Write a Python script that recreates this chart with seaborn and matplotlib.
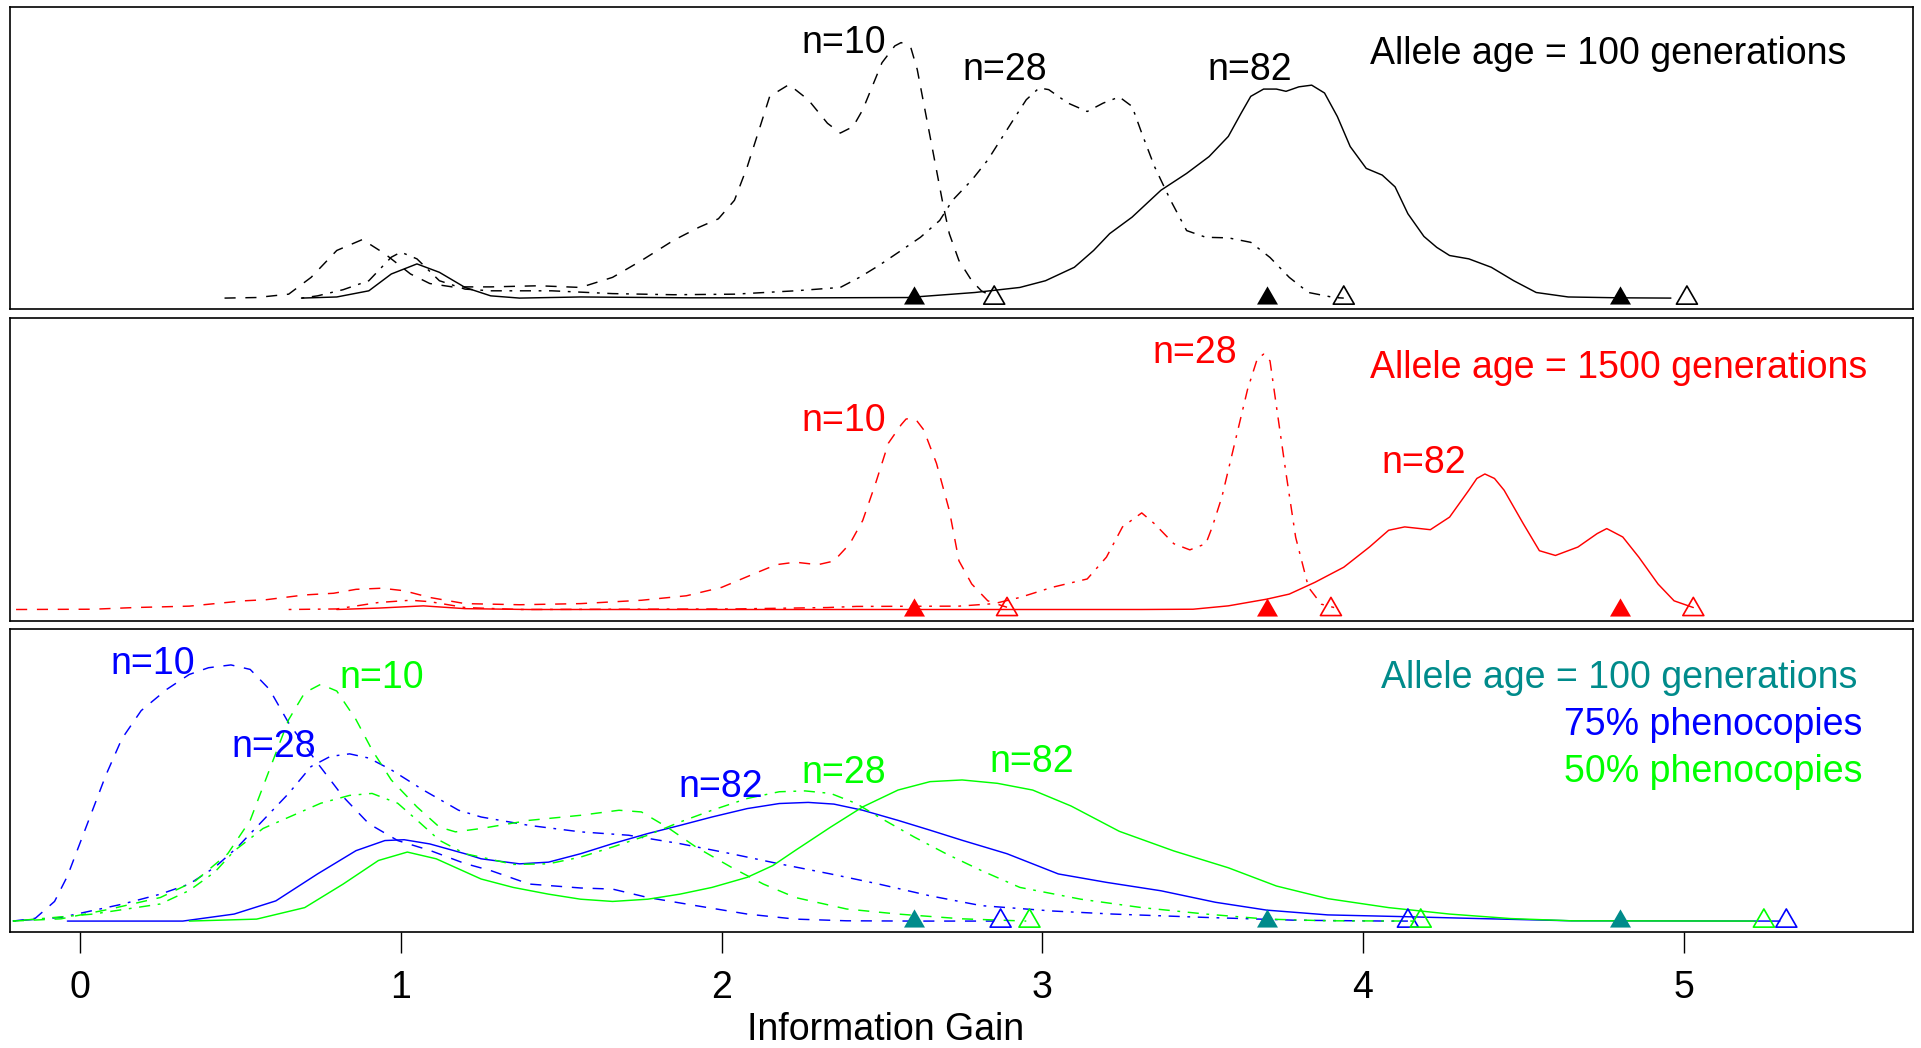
import numpy as np
import matplotlib
matplotlib.use("Agg")
import matplotlib.pyplot as plt
from matplotlib.path import Path
import seaborn as sns

# ---------------- data (density curves, scaled to panel height) ----------------
# Panel 1: allele age = 100 generations (black)
P1_N10_X = [0.45, 0.55, 0.65, 0.72, 0.80, 0.88, 0.95, 1.03, 1.09, 1.16, 1.28, 1.43, 1.56, 1.66, 1.75,
            1.85, 1.93, 1.99, 2.04, 2.08, 2.12, 2.15, 2.21, 2.27, 2.33, 2.37, 2.41, 2.44, 2.47, 2.50,
            2.54, 2.56, 2.59, 2.61, 2.63, 2.65, 2.67, 2.69, 2.71, 2.74, 2.78, 2.81, 2.83, 2.85]
P1_N10_Y = [0.000, 0.002, 0.014, 0.074, 0.170, 0.209, 0.158, 0.086, 0.052, 0.040, 0.040, 0.044, 0.038, 0.074, 0.134,
            0.206, 0.253, 0.283, 0.349, 0.469, 0.612, 0.720, 0.762, 0.708, 0.624, 0.589, 0.612, 0.672, 0.756, 0.840,
            0.900, 0.912, 0.894, 0.816, 0.696, 0.577, 0.457, 0.337, 0.230, 0.134, 0.062, 0.026, 0.014, 0.008]
P1_N28_X = [0.69, 0.74, 0.82, 0.90, 0.97, 1.00, 1.05, 1.12, 1.20, 1.28, 1.47, 1.66, 1.85, 2.04, 2.23,
            2.37, 2.43, 2.49, 2.56, 2.62, 2.68, 2.72, 2.78, 2.83, 2.87, 2.91, 2.95, 2.99, 3.02, 3.08,
            3.14, 3.19, 3.24, 3.28, 3.31, 3.35, 3.40, 3.45, 3.51, 3.58, 3.65, 3.71, 3.77, 3.83, 3.91, 3.94]
P1_N28_Y = [0.000, 0.008, 0.030, 0.062, 0.146, 0.164, 0.140, 0.062, 0.032, 0.026, 0.026, 0.016, 0.012, 0.014, 0.026,
            0.038, 0.074, 0.116, 0.170, 0.217, 0.277, 0.349, 0.421, 0.493, 0.565, 0.637, 0.708, 0.750, 0.744, 0.696,
            0.666, 0.696, 0.718, 0.684, 0.589, 0.469, 0.349, 0.241, 0.217, 0.215, 0.199, 0.145, 0.074, 0.020, 0.002, 0.000]
P1_N82_X = [0.69, 0.80, 0.90, 0.97, 1.05, 1.12, 1.20, 1.28, 1.37, 1.56, 1.90, 2.30, 2.58, 2.79, 2.93,
            3.01, 3.10, 3.16, 3.21, 3.28, 3.37, 3.45, 3.52, 3.58, 3.62, 3.65, 3.69, 3.73, 3.76, 3.80,
            3.84, 3.88, 3.92, 3.96, 4.01, 4.06, 4.10, 4.14, 4.19, 4.23, 4.27, 4.33, 4.40, 4.47, 4.54,
            4.64, 4.80, 4.96]
P1_N82_Y = [0.000, 0.004, 0.026, 0.086, 0.122, 0.092, 0.038, 0.008, 0.000, 0.004, 0.001, 0.001, 0.002, 0.020, 0.038,
            0.062, 0.110, 0.170, 0.230, 0.289, 0.385, 0.445, 0.505, 0.577, 0.660, 0.720, 0.746, 0.746, 0.738, 0.754,
            0.760, 0.732, 0.648, 0.541, 0.463, 0.439, 0.397, 0.301, 0.220, 0.181, 0.152, 0.140, 0.110, 0.062, 0.020,
            0.004, 0.001, 0.000]

# Panel 2: allele age = 1500 generations (red)
P2_N10_X = [-0.20, 0.04, 0.17, 0.34, 0.51, 0.58, 0.70, 0.79, 0.86, 0.94, 1.01, 1.09, 1.20, 1.37, 1.56,
            1.75, 1.89, 2.00, 2.10, 2.17, 2.23, 2.30, 2.35, 2.40, 2.44, 2.48, 2.52, 2.56, 2.575, 2.59,
            2.61, 2.63, 2.67, 2.71, 2.74, 2.78, 2.83, 2.86, 2.89]
P2_N10_Y = [0.000, 0.001, 0.007, 0.012, 0.031, 0.035, 0.052, 0.058, 0.072, 0.076, 0.067, 0.043, 0.021, 0.017, 0.021,
            0.033, 0.049, 0.079, 0.127, 0.160, 0.169, 0.160, 0.173, 0.235, 0.318, 0.450, 0.594, 0.660, 0.680, 0.684,
            0.672, 0.642, 0.522, 0.354, 0.174, 0.091, 0.031, 0.019, 0.008]
P2_N28_X = [0.65, 0.80, 0.93, 1.03, 1.09, 1.20, 1.37, 2.04, 2.33, 2.42, 2.74, 2.85, 2.93, 3.03, 3.14,
            3.20, 3.25, 3.31, 3.35, 3.41, 3.46, 3.51, 3.53, 3.56, 3.60, 3.64, 3.67, 3.69, 3.71, 3.73,
            3.76, 3.79, 3.83, 3.87, 3.91]
P2_N28_Y = [0.000, 0.002, 0.025, 0.033, 0.028, 0.007, 0.000, 0.002, 0.007, 0.011, 0.012, 0.021, 0.043, 0.079, 0.109,
            0.187, 0.295, 0.345, 0.306, 0.235, 0.213, 0.235, 0.295, 0.402, 0.594, 0.786, 0.894, 0.912, 0.888, 0.726,
            0.486, 0.258, 0.079, 0.019, 0.007]
P2_N82_X = [0.80, 0.93, 1.07, 1.20, 1.40, 2.00, 2.70, 3.31, 3.47, 3.58, 3.70, 3.77, 3.85, 3.94, 4.02,
            4.08, 4.13, 4.21, 4.27, 4.33, 4.355, 4.38, 4.41, 4.44, 4.50, 4.55, 4.60, 4.67, 4.73, 4.76,
            4.81, 4.86, 4.92, 4.97, 5.03]
P2_N82_Y = [0.000, 0.005, 0.013, 0.003, 0.000, 0.000, 0.000, 0.000, 0.001, 0.013, 0.037, 0.055, 0.097, 0.151, 0.223,
            0.283, 0.295, 0.285, 0.330, 0.426, 0.468, 0.484, 0.468, 0.426, 0.306, 0.210, 0.193, 0.223, 0.271, 0.289,
            0.259, 0.187, 0.091, 0.031, 0.007]

# Panel 3: allele age = 100 generations, 75% (blue) and 50% (green) phenocopies
P3B_N10_X = [-0.21, -0.14, -0.08, -0.04, 0.00, 0.04, 0.08, 0.13, 0.19, 0.27, 0.34, 0.40, 0.47, 0.53, 0.59,
             0.65, 0.74, 0.82, 0.90, 0.99, 1.09, 1.20, 1.28, 1.40, 1.56, 1.66, 1.77, 1.92, 2.08, 2.23,
             2.39, 2.60, 2.85]
P3B_N10_Y = [0.000, 0.010, 0.070, 0.160, 0.280, 0.400, 0.520, 0.650, 0.750, 0.826, 0.879, 0.903, 0.913, 0.897, 0.826,
             0.706, 0.563, 0.443, 0.347, 0.287, 0.252, 0.205, 0.180, 0.132, 0.118, 0.114, 0.084, 0.055, 0.025, 0.007,
             0.001, 0.000, 0.000]
P3G_N10_X = [-0.21, -0.06, 0.09, 0.25, 0.36, 0.46, 0.53, 0.59, 0.65, 0.70, 0.75, 0.80, 0.86, 0.91, 0.97,
             1.05, 1.12, 1.17, 1.25, 1.40, 1.56, 1.68, 1.75, 1.83, 1.92, 2.03, 2.13, 2.23, 2.39, 2.55,
             2.75, 2.95]
P3G_N10_Y = [0.000, 0.008, 0.042, 0.084, 0.144, 0.240, 0.359, 0.539, 0.718, 0.814, 0.844, 0.820, 0.718, 0.610, 0.503,
             0.407, 0.335, 0.318, 0.330, 0.359, 0.377, 0.395, 0.389, 0.335, 0.264, 0.192, 0.132, 0.084, 0.043, 0.025,
             0.008, 0.000]
P3B_N28_X = [-0.21, -0.06, 0.13, 0.25, 0.34, 0.42, 0.49, 0.57, 0.65, 0.72, 0.78, 0.84, 0.90, 0.97, 1.07,
             1.18, 1.25, 1.40, 1.56, 1.71, 1.87, 2.03, 2.18, 2.34, 2.49, 2.65, 2.81, 3.03, 3.22, 3.51,
             3.79, 4.08, 4.14]
P3B_N28_Y = [0.000, 0.013, 0.060, 0.096, 0.132, 0.192, 0.263, 0.359, 0.455, 0.551, 0.587, 0.596, 0.581, 0.539, 0.467,
             0.395, 0.371, 0.341, 0.318, 0.306, 0.276, 0.240, 0.204, 0.168, 0.132, 0.090, 0.055, 0.036, 0.025, 0.013,
             0.003, 0.000, 0.000]
P3G_N28_X = [-0.21, 0.04, 0.25, 0.34, 0.42, 0.48, 0.57, 0.67, 0.75, 0.84, 0.91, 0.99, 1.05, 1.12, 1.20,
             1.25, 1.35, 1.46, 1.56, 1.66, 1.77, 1.87, 1.97, 2.08, 2.18, 2.26, 2.34, 2.42, 2.49, 2.60,
             2.70, 2.81, 2.93, 3.12, 3.31, 3.51, 3.70, 3.89, 4.17]
P3G_N28_Y = [0.000, 0.025, 0.061, 0.109, 0.175, 0.250, 0.330, 0.380, 0.420, 0.448, 0.455, 0.420, 0.360, 0.288, 0.240,
             0.228, 0.202, 0.204, 0.228, 0.264, 0.306, 0.353, 0.395, 0.437, 0.461, 0.464, 0.455, 0.419, 0.371, 0.300,
             0.240, 0.180, 0.120, 0.078, 0.048, 0.025, 0.007, 0.001, 0.000]
P3B_N82_X = [-0.04, 0.32, 0.48, 0.61, 0.74, 0.86, 0.95, 1.01, 1.09, 1.20, 1.25, 1.37, 1.46, 1.56, 1.66,
             1.77, 1.87, 1.97, 2.08, 2.18, 2.27, 2.35, 2.44, 2.55, 2.65, 2.75, 2.89, 3.05, 3.20, 3.37,
             3.54, 3.70, 3.89, 4.12, 4.36, 4.65, 5.30]
P3B_N82_Y = [0.000, 0.000, 0.025, 0.072, 0.168, 0.251, 0.287, 0.290, 0.275, 0.240, 0.222, 0.204, 0.210, 0.240, 0.276,
             0.312, 0.341, 0.371, 0.401, 0.419, 0.423, 0.417, 0.395, 0.359, 0.324, 0.288, 0.240, 0.168, 0.138, 0.108,
             0.067, 0.039, 0.022, 0.016, 0.009, 0.001, 0.000]
P3G_N82_X = [0.34, 0.55, 0.70, 0.82, 0.93, 1.02, 1.11, 1.25, 1.35, 1.46, 1.56, 1.66, 1.77, 1.87, 1.97,
             2.08, 2.16, 2.23, 2.34, 2.44, 2.55, 2.65, 2.75, 2.86, 2.97, 3.09, 3.24, 3.41, 3.58, 3.73,
             3.89, 4.08, 4.27, 4.46, 4.65, 5.22]
P3G_N82_Y = [0.000, 0.007, 0.048, 0.132, 0.216, 0.246, 0.222, 0.150, 0.120, 0.096, 0.078, 0.070, 0.078, 0.096, 0.120,
             0.156, 0.198, 0.252, 0.335, 0.407, 0.467, 0.497, 0.503, 0.491, 0.467, 0.410, 0.320, 0.250, 0.190, 0.125,
             0.080, 0.048, 0.025, 0.009, 0.001, 0.000]

# Triangles: expected (filled) and maximum (open) information gain
FILLED_X = [2.60, 3.70, 4.80]
P1_OPEN_X = [2.85, 3.94, 5.01]
P2_OPEN_X = [2.89, 3.90, 5.03]
P3B_OPEN_X = [2.87, 4.14, 5.32]
P3G_OPEN_X = [2.96, 4.18, 5.25]

X_TICKS = [0, 1, 2, 3, 4, 5]
X_LABEL = "Information Gain"

# ---------------- style ----------------
sns.set_style("white")
plt.rcParams['font.family'] = ['Liberation Sans', 'DejaVu Sans']
plt.rcParams['lines.scale_dashes'] = False
plt.rcParams['text.color'] = 'black'
plt.rcParams['axes.labelcolor'] = 'black'
plt.rcParams['xtick.color'] = 'black'

BLACK, RED, BLUE, GREEN, TEAL = "black", "#FF0000", "#0000FF", "#00FF00", "#008B8B"
DASHED = (0, (8, 7))
DASHDOT = (0, (2, 5.5, 8, 5.5))
SOLID = "-"
FS = 27
LW = 1.05
TRI = Path([(0, 1.5551), (1.3468, -0.7776), (-1.3468, -0.7776), (0, 1.5551)],
           [Path.MOVETO, Path.LINETO, Path.LINETO, Path.CLOSEPOLY])
TRI_S = 304

fig = plt.figure(figsize=(19.21, 10.48), dpi=100)
L = 9.5 / 1921
W = (1913 - 9.5) / 1921
rects = [(L, 1 - 309.3 / 1048, W, 302.6 / 1048),
         (L, 1 - 620.7 / 1048, W, 302.4 / 1048),
         (L, 1 - 932.3 / 1048, W, 303.0 / 1048)]
axes = [fig.add_axes(r) for r in rects]
for ax in axes:
    ax.set_xlim(-0.2205, 5.715)
    ax.set_ylim(-0.04, 1.04)
    ax.set_yticks([])
    ax.set_facecolor("white")
    for s in ax.spines.values():
        s.set_visible(True)
        s.set_color("black")
        s.set_linewidth(1.2)
    ax.set_xlabel("")
    ax.set_ylabel("")


def curve(ax, xs, ys, color, ls):
    sns.lineplot(x=xs, y=ys, ax=ax, color=color, linewidth=LW, linestyle=ls,
                 estimator=None, sort=False, legend=False)


def filled(ax, xs, color):
    sns.scatterplot(x=xs, y=[0.0] * len(xs), ax=ax, marker=TRI, s=TRI_S, color=color,
                    linewidth=0, zorder=5, legend=False)


def openm(ax, xs, color):
    ax.scatter(xs, [0.0] * len(xs), marker=TRI, s=TRI_S, facecolors="none",
               edgecolors=color, linewidths=1.2, zorder=5)


# Panel 1
ax = axes[0]
curve(ax, P1_N10_X, P1_N10_Y, BLACK, DASHED)
curve(ax, P1_N28_X, P1_N28_Y, BLACK, DASHDOT)
curve(ax, P1_N82_X, P1_N82_Y, BLACK, SOLID)
filled(ax, FILLED_X, BLACK)
openm(ax, P1_OPEN_X, BLACK)
ax.text(2.380, 0.876, "n=10", color=BLACK, fontsize=FS, ha="center", va="baseline")
ax.text(2.882, 0.780, "n=28", color=BLACK, fontsize=FS, ha="center", va="baseline")
ax.text(3.646, 0.780, "n=82", color=BLACK, fontsize=FS, ha="center", va="baseline")
ax.text(4.764, 0.834, "Allele age = 100 generations", color=BLACK, fontsize=FS, ha="center", va="baseline")

# Panel 2
ax = axes[1]
curve(ax, P2_N10_X, P2_N10_Y, RED, DASHED)
curve(ax, P2_N28_X, P2_N28_Y, RED, DASHDOT)
curve(ax, P2_N82_X, P2_N82_Y, RED, SOLID)
filled(ax, FILLED_X, RED)
openm(ax, P2_OPEN_X, RED)
ax.text(2.380, 0.636, "n=10", color=RED, fontsize=FS, ha="center", va="baseline")
ax.text(3.474, 0.882, "n=28", color=RED, fontsize=FS, ha="center", va="baseline")
ax.text(4.190, 0.486, "n=82", color=RED, fontsize=FS, ha="center", va="baseline")
ax.text(4.798, 0.828, "Allele age = 1500 generations", color=RED, fontsize=FS, ha="center", va="baseline")

# Panel 3
ax = axes[2]
curve(ax, P3B_N10_X, P3B_N10_Y, BLUE, DASHED)
curve(ax, P3B_N28_X, P3B_N28_Y, BLUE, DASHDOT)
curve(ax, P3B_N82_X, P3B_N82_Y, BLUE, SOLID)
curve(ax, P3G_N10_X, P3G_N10_Y, GREEN, DASHED)
curve(ax, P3G_N28_X, P3G_N28_Y, GREEN, DASHDOT)
curve(ax, P3G_N82_X, P3G_N82_Y, GREEN, SOLID)
filled(ax, FILLED_X, TEAL)
openm(ax, P3B_OPEN_X, BLUE)
openm(ax, P3G_OPEN_X, GREEN)
ax.text(0.225, 0.880, "n=10", color=BLUE, fontsize=FS, ha="center", va="baseline")
ax.text(0.940, 0.832, "n=10", color=GREEN, fontsize=FS, ha="center", va="baseline")
ax.text(0.604, 0.586, "n=28", color=BLUE, fontsize=FS, ha="center", va="baseline")
ax.text(1.998, 0.443, "n=82", color=BLUE, fontsize=FS, ha="center", va="baseline")
ax.text(2.380, 0.491, "n=28", color=GREEN, fontsize=FS, ha="center", va="baseline")
ax.text(2.966, 0.533, "n=82", color=GREEN, fontsize=FS, ha="center", va="baseline")
ax.text(4.798, 0.832, "Allele age = 100 generations", color=TEAL, fontsize=FS, ha="center", va="baseline")
ax.text(5.091, 0.664, "75% phenocopies", color=BLUE, fontsize=FS, ha="center", va="baseline")
ax.text(5.091, 0.497, "50% phenocopies", color=GREEN, fontsize=FS, ha="center", va="baseline")

for ax in axes[:2]:
    ax.set_xticks([])
axes[2].set_xticks(X_TICKS)
axes[2].set_xticklabels([str(t) for t in X_TICKS])
axes[2].tick_params(axis="x", bottom=True, direction="out", length=15, width=1.0,
                    labelsize=FS, pad=12.5, colors="black")
fig.text(885.5 / 1921, 1 - 1040 / 1048, X_LABEL, fontsize=FS, color="black", ha="center", va="baseline")

fig.savefig("out.png", dpi=100, facecolor="white")
